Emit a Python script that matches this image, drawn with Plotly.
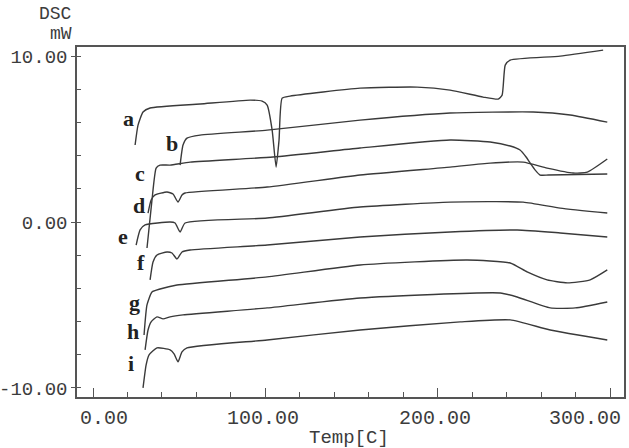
import plotly.graph_objects as go

# ---- data ----
curve_names = ["a", "b", "c", "d", "e", "f", "g", "h", "i"]

a_x = [24.4, 26.1, 29.0, 33.1, 62.1, 91.1, 98.1, 101.0, 103.9, 106.2, 107.9, 109.7, 114.3, 154.9, 188.0, 207.1, 226.3, 235.0, 237.3, 239.1, 242.0, 271.0, 295.9]
a_y = [4.64, 5.84, 6.63, 6.87, 7.11, 7.35, 7.29, 7.05, 5.54, 3.31, 4.94, 7.47, 7.59, 8.07, 8.13, 7.95, 7.53, 7.41, 7.65, 9.46, 9.76, 10.0, 10.36]

b_x = [50.5, 52.2, 54.5, 62.1, 101.0, 154.9, 207.1, 255.3, 276.8, 298.3]
b_y = [3.43, 4.64, 5.06, 5.24, 5.54, 6.14, 6.57, 6.63, 6.45, 6.02]

c_x = [31.3, 34.2, 36.6, 38.9, 44.7, 56.3, 104.4, 154.9, 207.1, 230.4, 242.0, 247.7, 251.2, 253.6, 256.5, 259.4, 264.1, 298.3]
c_y = [-1.57, 1.33, 3.25, 3.43, 3.43, 3.61, 3.92, 4.46, 4.94, 4.82, 4.58, 4.34, 3.92, 3.55, 3.13, 2.83, 2.83, 2.89]

d_x = [31.9, 33.7, 36.0, 42.9, 46.4, 49.3, 51.6, 53.4, 101.0, 154.9, 207.1, 230.4, 249.5, 263.4, 278.5, 286.7, 298.3]
d_y = [0.54, 1.33, 1.63, 1.81, 1.69, 1.20, 1.63, 1.75, 2.11, 2.83, 3.31, 3.55, 3.61, 3.25, 2.95, 3.01, 3.80]

e_x = [25.0, 27.3, 30.2, 44.7, 47.6, 50.5, 53.4, 101.0, 154.9, 207.1, 249.5, 271.0, 298.3]
e_y = [-1.39, -0.48, -0.18, 0.0, -0.06, -0.60, -0.06, 0.24, 0.90, 1.20, 1.20, 0.84, 0.54]

f_x = [33.1, 34.8, 37.1, 42.9, 45.8, 48.7, 51.6, 56.3, 101.0, 154.9, 207.1, 246.0, 271.0, 298.3]
f_y = [-3.49, -2.41, -1.99, -1.81, -1.87, -2.23, -1.81, -1.69, -1.39, -0.90, -0.60, -0.48, -0.66, -0.90]

g_x = [29.6, 31.3, 34.2, 38.9, 48.7, 101.0, 154.9, 217.0, 242.0, 251.8, 263.4, 275.1, 288.4, 298.3]
g_y = [-6.81, -5.0, -4.22, -4.04, -3.80, -3.31, -2.59, -2.29, -2.47, -3.01, -3.49, -3.67, -3.49, -2.89]

h_x = [30.2, 31.9, 33.7, 37.1, 40.6, 44.7, 52.2, 101.0, 154.9, 236.2, 246.0, 265.2, 279.7, 298.3]
h_y = [-7.71, -6.51, -6.02, -5.72, -5.84, -5.72, -5.60, -5.18, -4.58, -4.28, -4.52, -5.18, -5.18, -4.82]

i_x = [29.0, 30.8, 32.5, 37.1, 44.7, 47.0, 49.3, 51.6, 54.5, 101.0, 154.9, 213.0, 242.0, 265.2, 298.3]
i_y = [-10.0, -8.61, -8.01, -7.59, -7.71, -7.95, -8.43, -7.83, -7.59, -7.11, -6.51, -6.02, -5.90, -6.51, -7.11]

series_x = [a_x, b_x, c_x, d_x, e_x, f_x, g_x, h_x, i_x]
series_y = [a_y, b_y, c_y, d_y, e_y, f_y, g_y, h_y, i_y]

x_tick_vals = [0, 100, 200, 300]
x_tick_text = ["0.00", "100.00", "200.00", "300.00"]
y_tick_vals = [-10, 0, 10]
y_tick_text = ["-10.00", "0.00", "10.00"]

# label anchor points (layout)
label_pos = [(20.3, 6.25), (45.8, 4.75), (27.3, 2.95), (26.7, 1.02), (17.4, -0.85),
             (27.9, -2.47), (23.8, -4.88), (23.2, -6.63), (22.1, -8.55)]

LINE = "#3a3a3a"
MONO = "Liberation Mono"
SERIF = "Liberation Serif"
TXT = "#3c3c3c"

fig = go.Figure()
for name, xs, ys in zip(curve_names, series_x, series_y):
    fig.add_trace(go.Scatter(x=xs, y=ys, mode="lines", name=name,
                             line=dict(color=LINE, width=1.4, shape="spline", smoothing=0.5),
                             showlegend=False, hoverinfo="skip"))

annotations = []
for name, (lx, ly) in zip(curve_names, label_pos):
    annotations.append(dict(x=lx, y=ly, xref="x", yref="y", text="<b>" + name + "</b>", showarrow=False,
                            font=dict(family=SERIF, size=22, color="#222222"),
                            xanchor="center", yanchor="middle"))

# x tick labels
x_shifts = [11, -2, -3, -25]
for v, t, s in zip(x_tick_vals, x_tick_text, x_shifts):
    annotations.append(dict(x=v, y=0, xref="x", yref="paper", text=t, showarrow=False,
                            xshift=s, yshift=-21, yanchor="middle", xanchor="center",
                            font=dict(family=MONO, size=20, color=TXT)))

annotations += [
    dict(x=-0.006, y=1.095, xref="paper", yref="paper", text="DSC", showarrow=False,
         xanchor="right", yanchor="middle", font=dict(family=MONO, size=18, color=TXT)),
    dict(x=-0.006, y=1.036, xref="paper", yref="paper", text="mW", showarrow=False,
         xanchor="right", yanchor="middle", font=dict(family=MONO, size=18, color=TXT)),
    dict(x=0.497, y=-0.118, xref="paper", yref="paper", text="Temp[C]", showarrow=False,
         xanchor="center", yanchor="middle", font=dict(family=MONO, size=19, color=TXT)),
]

fig.update_layout(
    width=629, height=448,
    margin=dict(l=77, r=5, t=47, b=51),
    paper_bgcolor="white", plot_bgcolor="white",
    annotations=annotations,
)
fig.update_xaxes(range=[-9.3, 308], showgrid=False, zeroline=False, automargin=False,
                 showline=True, mirror=True, linecolor="#555555", linewidth=1.5,
                 tickvals=x_tick_vals, showticklabels=False,
                 ticks="inside", ticklen=9, tickcolor="#555555", tickwidth=1,
                 minor=dict(dtick=20, tick0=0, ticks="inside", ticklen=5,
                            tickcolor="#555555", tickwidth=1))
fig.update_yaxes(range=[-10.55, 10.55], showgrid=False, zeroline=False, automargin=False,
                 showline=True, mirror=True, linecolor="#555555", linewidth=1.5,
                 tickvals=y_tick_vals, ticktext=y_tick_text,
                 ticks="outside", ticklen=4, tickcolor="#555555", tickwidth=1,
                 tickfont=dict(family=MONO, size=19, color=TXT),
                 minor=dict(dtick=2, tick0=0, ticks="inside", ticklen=4,
                            tickcolor="#555555", tickwidth=1))

fig.write_html("out.html")
